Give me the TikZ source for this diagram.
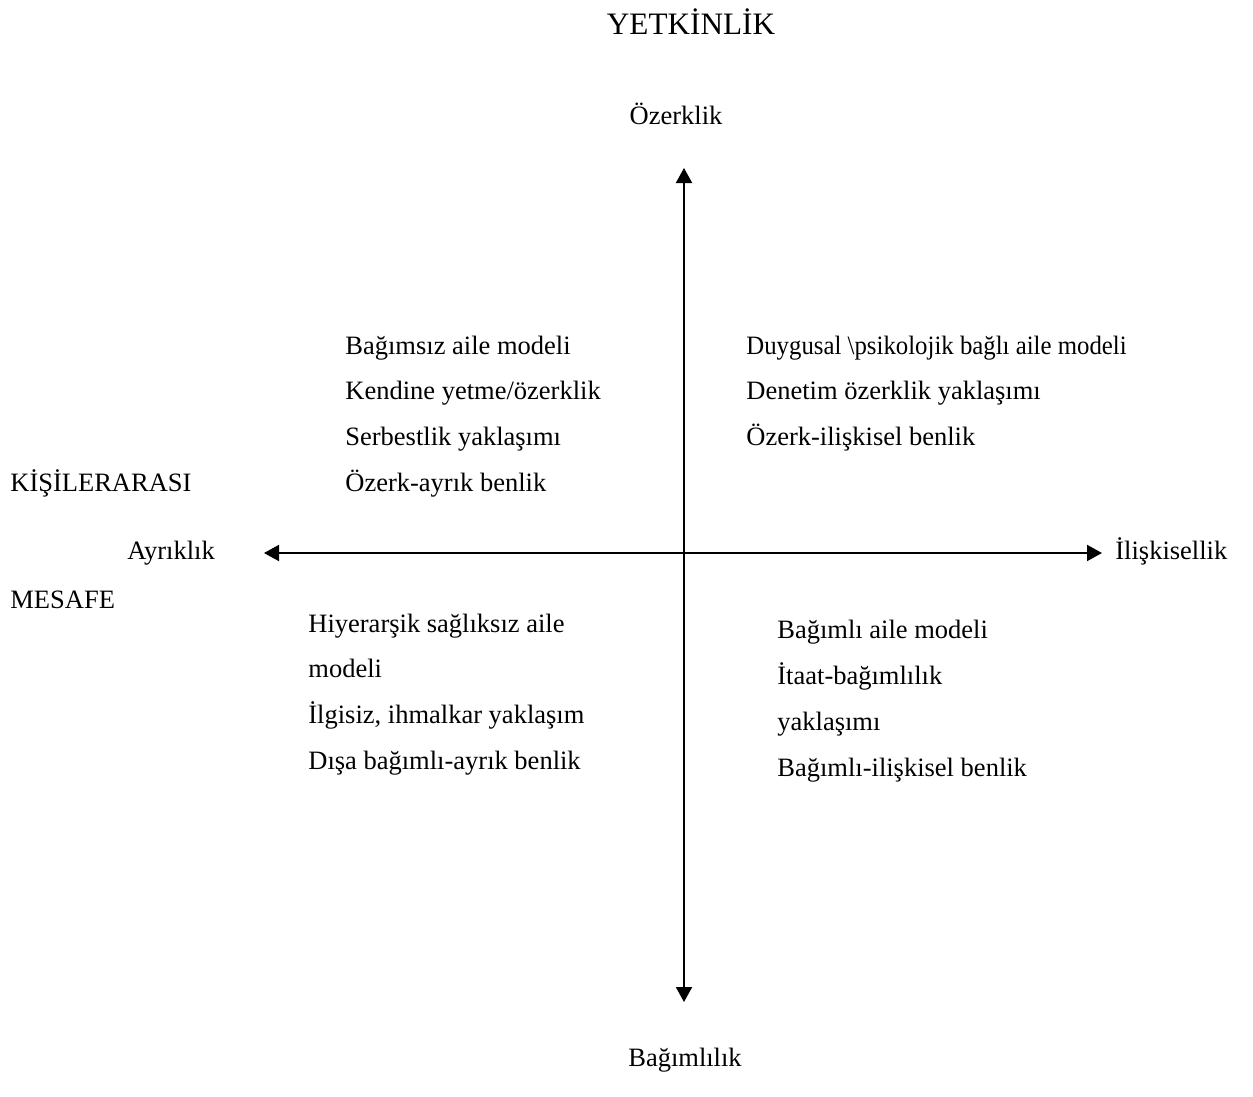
\documentclass[tikz,border=0pt]{standalone}
\usepackage{fontspec}
\setmainfont{Liberation Serif}
\usetikzlibrary{arrows.meta, positioning}

\begin{document}
\begin{tikzpicture}[x=0.5pt, y=-0.5pt, font=\fontsize{13.25}{16}\selectfont,
	>={Triangle[length=7.5pt, width=8pt]},
	lbl/.style={inner sep=0pt, anchor=base west},
	axis/.style={<->, line width=1pt}]
	\useasboundingbox (0,0) rectangle (1253,1097);
	% axis ends
	\coordinate (top) at (684,168);
	\coordinate (bottom) at (684,1002);
	\coordinate (left) at (264,553);
	\coordinate (right) at (1102,553);
	\draw[axis] (bottom) -- (top);
	\draw[axis] (left) -- (right);
	% axis labels
	\node[inner sep=0pt, anchor=base, font=\fontsize{15.6}{18}\selectfont] (title) at (691,35) {YETKİNLİK};
	\node[inner sep=0pt, anchor=base] (ozerk) at (676,125) {Özerklik};
	\node[inner sep=0pt, anchor=base] (bagim) at (685,1066) {Bağımlılık};
	\node[lbl] (ayrik) at (127,559) {Ayrıklık};
	\node[lbl] (iliski) at (1115,559) {İlişkisellik};
	\node[lbl] (kisi) at (10,491) {KİŞİLERARASI};
	\node[lbl] (mesafe) at (10,608) {MESAFE};
	% four quarters
	\foreach \i/\T in {0/{Bağımsız aile modeli},
					   1/{Kendine yetme/özerklik},
					   2/{Serbestlik yaklaşımı},
					   3/{Özerk-ayrık benlik}} {
		\node[lbl] (ul\i) at (345,{354+45.8*\i}) {\T};
		}
	\foreach \i/\T in {0/{\scalebox{0.936}[1]{Duygusal \textbackslash psikolojik bağlı aile modeli}},
					   1/{Denetim özerklik yaklaşımı},
					   2/{Özerk-ilişkisel benlik}} {
		\node[lbl] (ur\i) at (746,{354+45.8*\i}) {\T};
		}
	\foreach \i/\T in {0/{Hiyerarşik sağlıksız aile},
					   1/{modeli},
					   2/{İlgisiz, ihmalkar yaklaşım},
					   3/{Dışa bağımlı-ayrık benlik}} {
		\node[lbl] (ll\i) at (308,{632+45.8*\i}) {\T};
		}
	\foreach \i/\T in {0/{Bağımlı aile modeli},
					   1/{İtaat-bağımlılık},
					   2/{yaklaşımı},
					   3/{Bağımlı-ilişkisel benlik}} {
		\node[lbl] (lr\i) at (777,{638+46*\i}) {\T};
		}
\end{tikzpicture}
\end{document}
